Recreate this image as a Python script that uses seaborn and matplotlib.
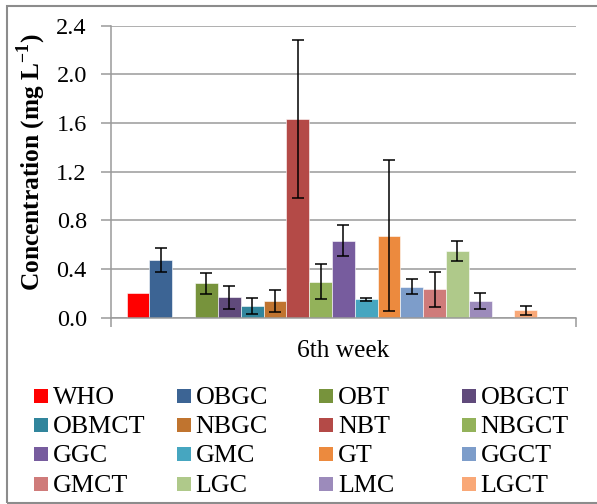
import numpy as np
import pandas as pd
import seaborn as sns
import matplotlib.pyplot as plt
from matplotlib.patches import Rectangle
from matplotlib.ticker import FormatStrFormatter

# Treatments, their mean concentration after the 6th week and the error half-widths
series = ["WHO", "OBGC", "OBT", "OBGCT", "OBMCT", "NBGC", "NBT", "NBGCT",
          "GGC", "GMC", "GT", "GGCT", "GMCT", "LGC", "LMC", "LGCT"]
means = [0.20, 0.474, 0.283, 0.168, 0.096, 0.137, 1.633, 0.296,
         0.633, 0.151, 0.674, 0.255, 0.233, 0.548, 0.137, 0.063]
errors = [0.0, 0.10, 0.085, 0.095, 0.063, 0.09, 0.652, 0.143,
          0.126, 0.014, 0.62, 0.06, 0.143, 0.085, 0.062, 0.037]
# bar slot of each treatment within the 19-slot cluster (slots 2, 16 and 18 stay empty)
slots = [0, 1, 3, 4, 5, 6, 7, 8, 9, 10, 11, 12, 13, 14, 15, 17]
n_slots = 19
colors = ["#FF0000", "#3C6494", "#77933C", "#604A7B", "#31859C", "#C0742F",
          "#B44A47", "#93B25A", "#775C9E", "#46A6C0", "#EC8A3E", "#7D9DCA",
          "#CF7B7A", "#AFC98A", "#9C8BBB", "#F9A877"]
yticks = [0.0, 0.4, 0.8, 1.2, 1.6, 2.0, 2.4]
category = "6th week"

sns.set_theme(style="white")
plt.rcParams["font.family"] = ["Liberation Serif", "DejaVu Serif"]
plt.rcParams["mathtext.fontset"] = "custom"
plt.rcParams["mathtext.rm"] = "Liberation Serif"
plt.rcParams["mathtext.bf"] = "Liberation Serif:bold"

W, H = 597, 504
fig = plt.figure(figsize=(W / 100, H / 100), dpi=100)
fig.patch.set_facecolor("white")

left, right, top, bottom = 110.7, 576.0, 25.7, 317.7
ax = fig.add_axes([left / W, 1 - bottom / H, (right - left) / W, (bottom - top) / H])

df = pd.DataFrame({"slot": slots, "series": series, "conc": means, "err": errors})

sns.barplot(data=df, x="slot", y="conc", hue="series", order=list(range(n_slots)),
            hue_order=series, palette=colors, dodge=False, width=1.0,
            saturation=1, errorbar=None, legend=False, edgecolor="white",
            linewidth=0.4, ax=ax, zorder=2)

has_err = df["err"] > 0
ax.errorbar(df.loc[has_err, "slot"], df.loc[has_err, "conc"], yerr=df.loc[has_err, "err"],
            fmt="none", ecolor="black", elinewidth=1.1, capsize=4.3, capthick=1.1,
            zorder=3)

grey = "#9A9A9A"
ax.set_xlim(-0.5 - 0.7, n_slots - 0.5 + 0.7)
ax.set_ylim(0, 2.4)
ax.set_yticks(yticks)
ax.yaxis.set_major_formatter(FormatStrFormatter("%.1f"))
ax.set_xticks(list(ax.get_xlim()))
ax.set_xticklabels([])
ax.set_xlabel("")

ax.yaxis.grid(True, color=grey, linewidth=1.1)
ax.xaxis.grid(False)
ax.set_axisbelow(True)
for side in ("top", "right"):
    ax.spines[side].set_visible(False)
for side in ("left", "bottom"):
    ax.spines[side].set_color(grey)
    ax.spines[side].set_linewidth(1.1)

ax.tick_params(axis="y", which="major", direction="out", length=7.2, width=1.1,
               color=grey, pad=10, labelsize=17.5, labelcolor="black", left=True)
ax.tick_params(axis="x", which="major", direction="out", length=6.5, width=1.1,
               color=grey, bottom=True)

ax.set_ylabel(r"Concentration (mg L$^{\mathbf{-1}}$)", fontsize=18.3,
              fontweight="bold", color="black")
ax.yaxis.label.set_va("center")
ax.yaxis.set_label_coords((32 - left) / (right - left), (bottom - 162) / (bottom - top))

ax.text(0.5, -(351 - bottom) / (bottom - top), category, transform=ax.transAxes,
        ha="center", va="center", fontsize=18.3, color="black")

# legend: 4 columns, filled row by row
box = 14
for i, (name, col) in enumerate(zip(series, colors)):
    c, r = i % 4, i // 4
    x0 = 34.3 + c * 142.5
    yc = 396 + r * 29.2
    fig.patches.append(Rectangle((x0 / W, 1 - (yc + box / 2) / H), box / W, box / H,
                                 transform=fig.transFigure, facecolor=col,
                                 edgecolor="none"))
    fig.text((x0 + 19) / W, 1 - (yc + 8) / H, name, ha="left", va="baseline",
             fontsize=18.7, color="black")

# chart area border
fig.patches.append(Rectangle((6.5 / W, 1 - 503 / H), 1.0, (503 - 6) / H,
                             transform=fig.transFigure, fill=False,
                             edgecolor="#8C8C8C", linewidth=1.5))

fig.savefig("out.png", dpi=100)
